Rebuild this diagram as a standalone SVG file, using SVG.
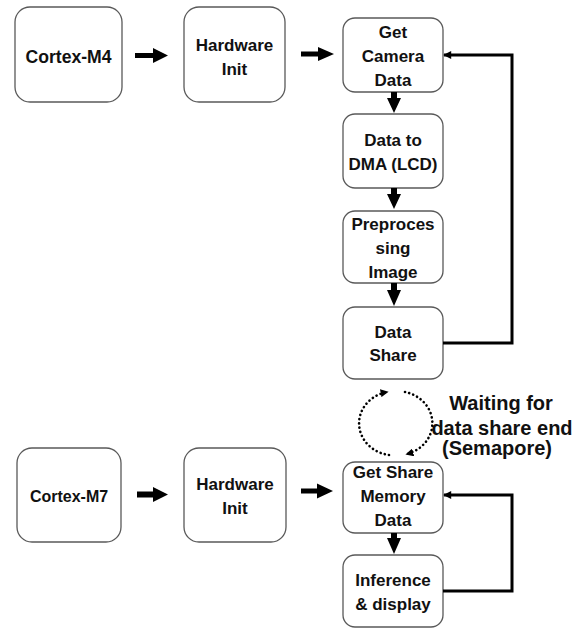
<svg xmlns="http://www.w3.org/2000/svg" width="586" height="629" viewBox="0 0 586 629">
<defs>
<style>
.box{fill:#fff;stroke:#595959;stroke-width:1.3}
.t{font-family:"Liberation Sans",Arial,sans-serif;font-weight:bold;font-size:17px;fill:#111;text-anchor:middle}
.t16{font-size:16px}
.lbl{font-family:"Liberation Sans",Arial,sans-serif;font-weight:bold;font-size:20px;fill:#111;text-anchor:middle}
.blk{fill:#000}
.fb{fill:none;stroke:#000;stroke-width:3}
.dot{fill:none;stroke:#000;stroke-width:2.6;stroke-dasharray:0.1 4.2;stroke-linecap:round}
</style>
<marker id="ah" viewBox="0 0 10 10" refX="9" refY="5" markerWidth="9" markerHeight="8" markerUnits="userSpaceOnUse" orient="auto">
<path d="M0,0 L10,5 L0,10 Z" fill="#000"/>
</marker>
<marker id="dh" viewBox="0 0 10 10" refX="8" refY="5" markerWidth="8" markerHeight="8" markerUnits="userSpaceOnUse" orient="auto">
<path d="M0,0 L10,5 L0,10 Z" fill="#000"/>
</marker>
</defs>
<rect width="586" height="629" fill="#fff"/>

<g id="cortex-m4"><rect class="box" x="15" y="7" width="107" height="95" rx="15"/><text class="t" x="68.5" y="63" style="font-size:17.6px">Cortex-M4</text></g>
<g id="hw-init-1"><rect class="box" x="184" y="7" width="101" height="95" rx="15"/><text class="t" x="234.5" y="51">Hardware</text><text class="t" x="234.5" y="75">Init</text></g>
<g id="get-camera"><rect class="box" x="343" y="18" width="100" height="74" rx="12"/><text class="t" x="393" y="38">Get</text><text class="t" x="393" y="62">Camera</text><text class="t" x="393" y="86">Data</text></g>
<g id="data-dma"><rect class="box" x="343" y="114" width="100" height="74" rx="12"/><text class="t" x="393" y="146">Data to</text><text class="t" x="393" y="170">DMA (LCD)</text></g>
<g id="preprocessing"><rect class="box" x="343" y="211" width="100" height="72" rx="12"/><text class="t" x="393" y="230">Preproces</text><text class="t" x="393" y="254">sing</text><text class="t" x="393" y="278">Image</text></g>
<g id="data-share"><rect class="box" x="343" y="307" width="100" height="72" rx="12"/><text class="t" x="393" y="338">Data</text><text class="t" x="393" y="361">Share</text></g>

<g id="cortex-m7"><rect class="box" x="17" y="448" width="104" height="94" rx="15"/><text class="t t16" x="69" y="502">Cortex-M7</text></g>
<g id="hw-init-2"><rect class="box" x="184" y="448" width="102" height="94" rx="15"/><text class="t" x="235" y="490">Hardware</text><text class="t" x="235" y="514">Init</text></g>
<g id="get-share"><rect class="box" x="343" y="462" width="100" height="71" rx="12"/><text class="t" x="393" y="478">Get Share</text><text class="t" x="393" y="502">Memory</text><text class="t" x="393" y="526">Data</text></g>
<g id="inference"><rect class="box" x="343" y="555" width="100" height="72" rx="12"/><text class="t" x="393" y="586">Inference</text><text class="t" x="393" y="610">&amp; display</text></g>

<g id="semaphore-label"><text class="lbl" x="501" y="410">Waiting for</text><text class="lbl" x="502" y="435">data share end</text><text class="lbl" x="497" y="455">(Semapore)</text></g>

<g id="connectors">
<polygon class="blk" points="135,53 153,53 153,48 168,55.5 153,63 153,58 135,58"/>
<polygon class="blk" points="301,51.5 318,51.5 318,47 334,54 318,61 318,56.5 301,56.5"/>
<polygon class="blk" points="137,491.5 153,491.5 153,487 168,494.5 153,502 153,497.5 137,497.5"/>
<polygon class="blk" points="301,488.5 317,488.5 317,483.5 333,491 317,498.5 317,493.5 301,493.5"/>

<polygon class="blk" points="391,92 397,92 397,98 401,98 394,113 387,98 391,98"/>
<polygon class="blk" points="391,188 397,188 397,194 401,194 394,209 387,194 391,194"/>
<polygon class="blk" points="391,283 397,283 397,290 401,290 394,306 387,290 391,290"/>
<polygon class="blk" points="391,533 397,533 397,538 401,538 394,554 387,538 391,538"/>

<path class="fb" d="M443,343 H512 V55 H444" marker-end="url(#ah)"/>
<path class="fb" d="M443,591 H512 V495 H444" marker-end="url(#ah)"/>

<path class="dot" d="M389,455 A35,32 0 0 1 387,392" marker-end="url(#dh)"/>
<path class="dot" d="M405,392 A35,32 0 0 1 407,454" marker-end="url(#dh)"/>
</g>
</svg>
